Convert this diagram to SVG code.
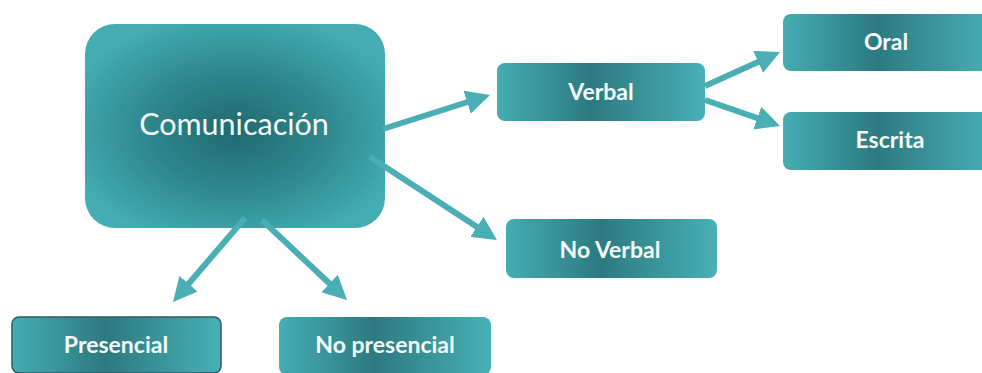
<svg xmlns="http://www.w3.org/2000/svg" width="982" height="373" viewBox="0 0 982 373">
  <style>
    .lbl { font-family: Lato, "Open Sans", "Liberation Sans", sans-serif; fill: #f4fbfb; text-anchor: middle; }
    .small { font-size: 23px; font-weight: 700; }
    .big { font-size: 30.5px; font-weight: 400; }
    .box { fill: url(#gSmall); }
    .conn { stroke: #4aaeb5; stroke-width: 6; fill: none; marker-end: url(#arrow); }
  </style>
  <defs>
    <radialGradient id="gBig" cx="50%" cy="52%" r="58%">
      <stop offset="0" stop-color="#1f6a70"/>
      <stop offset="0.5" stop-color="#2e878d"/>
      <stop offset="1" stop-color="#43adb3"/>
    </radialGradient>
    <linearGradient id="gSmall" x1="0" y1="0" x2="1" y2="0">
      <stop offset="0" stop-color="#45adb3"/>
      <stop offset="0.45" stop-color="#2c7a80"/>
      <stop offset="1" stop-color="#48b0b6"/>
    </linearGradient>
    <marker id="arrow" viewBox="0 0 10 10" markerWidth="4" markerHeight="4" refX="3" refY="5" orient="auto" markerUnits="strokeWidth">
      <path d="M0,0 L10,5 L0,10 z" fill="#4aaeb5"/>
    </marker>
  </defs>
  <rect width="982" height="373" fill="#ffffff"/>

  <g id="node-comunicacion">
    <rect x="85" y="24" width="300" height="204" rx="30" fill="url(#gBig)"/>
    <text class="lbl big" x="234" y="135">Comunicación</text>
  </g>
  <g id="node-verbal">
    <rect class="box" x="497" y="63" width="208" height="58" rx="8"/>
    <text class="lbl small" x="601" y="100">Verbal</text>
  </g>
  <g id="node-oral">
    <rect class="box" x="783" y="14" width="210" height="57" rx="8"/>
    <text class="lbl small" x="886" y="50">Oral</text>
  </g>
  <g id="node-escrita">
    <rect class="box" x="783" y="112" width="210" height="58" rx="8"/>
    <text class="lbl small" x="890" y="148">Escrita</text>
  </g>
  <g id="node-noverbal">
    <rect class="box" x="506" y="219" width="211" height="59" rx="8"/>
    <text class="lbl small" x="610" y="258">No Verbal</text>
  </g>
  <g id="node-presencial">
    <rect class="box" x="12" y="317" width="209" height="56" rx="7" stroke="#2c5a66" stroke-width="1.5"/>
    <text class="lbl small" x="116" y="353">Presencial</text>
  </g>
  <g id="node-nopresencial">
    <rect class="box" x="279" y="317" width="212" height="58" rx="8"/>
    <text class="lbl small" x="385" y="353">No presencial</text>
  </g>

  <g id="connectors">
    <line class="conn" x1="383" y1="129" x2="474" y2="100"/>
    <line class="conn" x1="370" y1="157" x2="482.9" y2="230.8"/>
    <line class="conn" x1="245" y1="218" x2="183.9" y2="289.2"/>
    <line class="conn" x1="262" y1="220" x2="334.8" y2="288.5"/>
    <line class="conn" x1="705" y1="86" x2="764.7" y2="58.9"/>
    <line class="conn" x1="705" y1="100" x2="764.1" y2="120.5"/>
  </g>
</svg>
